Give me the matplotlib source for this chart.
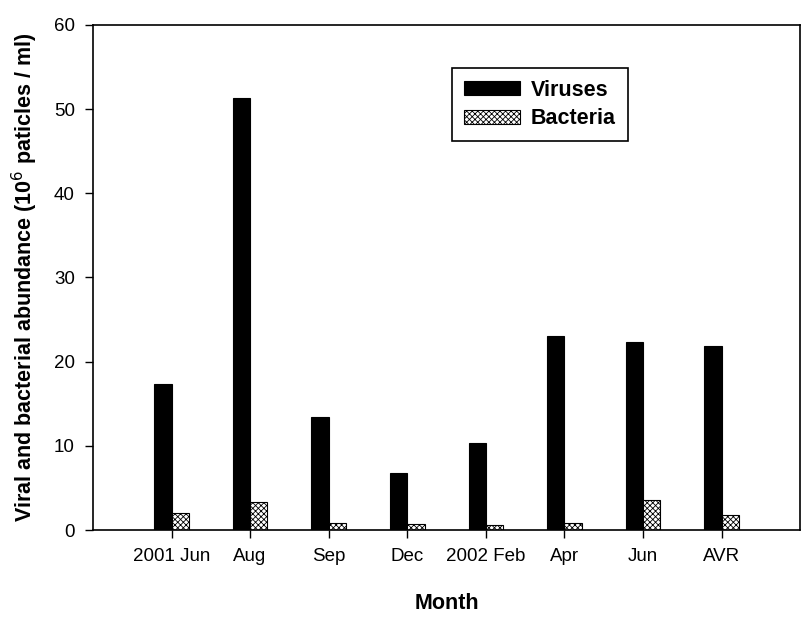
import matplotlib
matplotlib.use("Agg")
import matplotlib.pyplot as plt
import numpy as np

months = ["2001 Jun", "Aug", "Sep", "Dec", "2002 Feb", "Apr", "Jun", "AVR"]
viruses = [17.3, 51.3, 13.4, 6.8, 10.3, 23.1, 22.3, 21.9]
bacteria = [2.0, 3.3, 0.8, 0.7, 0.6, 0.8, 3.6, 1.8]

plt.rcParams['font.family'] = ['Liberation Sans', 'DejaVu Sans']
plt.rcParams['hatch.linewidth'] = 0.6

fig = plt.figure(figsize=(8.01, 6.17), dpi=100)
ax = fig.add_axes([0.116, 0.141, 0.883, 0.8185])

x = np.arange(len(months))
w = 0.22
ax.bar(x - w / 2, viruses, width=w, color='black', edgecolor='black', linewidth=0.8, label='Viruses')
ax.bar(x + w / 2, bacteria, width=w, color='white', edgecolor='black', hatch='xxxxxx', linewidth=0.8, label='Bacteria')

ax.set_xlim(-1, 8)
ax.set_ylim(0, 60)
ax.set_yticks(range(0, 61, 10))
ax.set_xticks(x)
ax.set_xticklabels(months)
ax.tick_params(axis='both', direction='out', length=6, width=1, labelsize=13.5, pad=7)
for s in ax.spines.values():
    s.set_linewidth(1.2)

ax.set_ylabel('Viral and bacterial abundance (10$^{6}$ paticles / ml)', fontsize=15.5, fontweight='bold', labelpad=10)
ax.set_xlabel('Month', fontsize=15.5, fontweight='bold', labelpad=20)

leg = ax.legend(loc='upper left', bbox_to_anchor=(0.508, 0.915), borderaxespad=0,
                fancybox=False, frameon=True, edgecolor='black', framealpha=1,
                prop={'weight': 'bold', 'size': 15.5}, handlelength=2.6, handleheight=0.65,
                borderpad=0.55, labelspacing=0.35, handletextpad=0.5)
leg.get_frame().set_linewidth(1.2)

fig.savefig('out.png', dpi=100)
